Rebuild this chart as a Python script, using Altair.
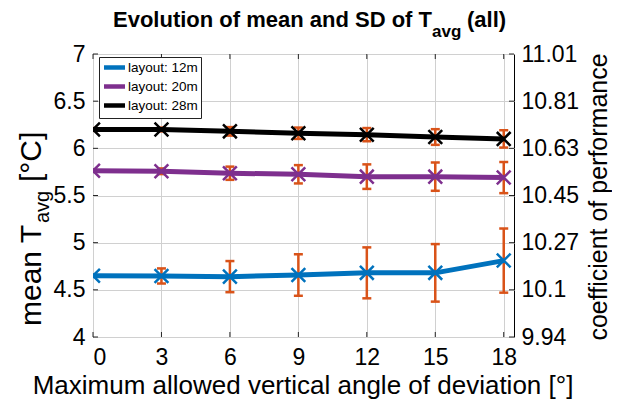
import altair as alt
import pandas as pd

# ---------------- data ----------------
angles = [0, 3, 6, 9, 12, 15, 18]
series_names = ["layout: 12m", "layout: 20m", "layout: 28m"]
series_colors = ["#0072BD", "#7E2F8E", "#000000"]

mean_12m = [4.65, 4.647, 4.64, 4.657, 4.68, 4.68, 4.81]
sd_12m = [0.01, 0.08, 0.165, 0.22, 0.27, 0.305, 0.34]
mean_20m = [5.763, 5.757, 5.736, 5.725, 5.70, 5.70, 5.69]
sd_20m = [0.01, 0.03, 0.07, 0.097, 0.13, 0.15, 0.165]
mean_28m = [6.20, 6.20, 6.18, 6.16, 6.145, 6.12, 6.10]
sd_28m = [0.015, 0.02, 0.045, 0.06, 0.07, 0.083, 0.092]

left_ticks = [4, 4.5, 5, 5.5, 6, 6.5, 7]
right_tick_labels = ["9.94", "10.1", "10.27", "10.45", "10.63", "10.81", "11.01"]

title_parts = ["Evolution of mean and SD of T", "avg", "(all)"]
ylabel_parts = ["mean T", "avg", "[°C]"]
xlabel = "Maximum allowed vertical angle of deviation [°]"
ylabel_right = "coefficient of performance"

rows = []
for name, means, sds in zip(series_names, [mean_12m, mean_20m, mean_28m],
                            [sd_12m, sd_20m, sd_28m]):
    for a, m, s in zip(angles, means, sds):
        rows.append(dict(series=name, angle=a, mean=m, lo=m - s, hi=m + s))
df = pd.DataFrame(rows)
ytick_df = pd.DataFrame({"v": left_ticks})
xtick_df = pd.DataFrame({"a": angles})

FONT = "Liberation Sans"
ORANGE = "#D95319"
GRID = "#d0d0d0"
TICK_COLOR = "#262626"
TICK_FS = 23
W, H, TL = 421, 283, 5

xscale = alt.Scale(domain=[0, 18.45], nice=False, zero=False)
yscale = alt.Scale(domain=[4, 7], nice=False, zero=False)
color_scale = alt.Scale(domain=series_names, range=series_colors)

x_axis = alt.Axis(values=angles, title=None, labelFontSize=TICK_FS, labelPadding=9,
                  ticks=False, domain=False, grid=True, gridColor=GRID,
                  labelFont=FONT, labelColor="black")
y_axis = alt.Axis(values=left_ticks, title=None, labelFontSize=TICK_FS, labelPadding=8,
                  format="~g", labelOverlap=False,
                  ticks=False, domain=False, grid=True, gridColor=GRID,
                  labelFont=FONT, labelColor="black")

lookup = "{" + ",".join(f"'{t}':'{l}'" for t, l in zip(left_ticks, right_tick_labels)) + "}"
y_axis_right = alt.Axis(values=left_ticks, orient="right", labelExpr=f"{lookup}[datum.value]",
                        title=None, labelOverlap=False,
                        labelFontSize=TICK_FS, labelPadding=7, ticks=False, domain=False,
                        grid=False, labelFont=FONT, labelColor="black")

x_enc = alt.X("angle:Q", scale=xscale, axis=x_axis)

base = alt.Chart(df)

# inward tick marks (MATLAB style)
yt = alt.Chart(ytick_df)
xt = alt.Chart(xtick_df)
ticks_left = yt.mark_rule(color=TICK_COLOR, strokeWidth=1).encode(
    x=alt.value(0), x2=alt.value(TL), y=alt.Y("v:Q", scale=yscale, axis=y_axis))
ticks_right = yt.mark_rule(color=TICK_COLOR, strokeWidth=1).encode(
    x=alt.value(W - TL), x2=alt.value(W), y=alt.Y("v:Q", scale=yscale, axis=y_axis))
ticks_bottom = xt.mark_rule(color=TICK_COLOR, strokeWidth=1).encode(
    x=alt.X("a:Q", scale=xscale, axis=x_axis), y=alt.value(H - TL), y2=alt.value(H))
ticks_top = xt.mark_rule(color=TICK_COLOR, strokeWidth=1).encode(
    x=alt.X("a:Q", scale=xscale, axis=x_axis), y=alt.value(0), y2=alt.value(TL))

err = base.mark_rule(color=ORANGE, strokeWidth=2.5, clip=True).encode(
    x=x_enc, y=alt.Y("lo:Q", scale=yscale, axis=y_axis), y2="hi:Q")
cap_lo = base.mark_tick(orient="horizontal", size=9, thickness=2.5, color=ORANGE,
                        clip=True, opacity=1).encode(
    x=x_enc, y=alt.Y("lo:Q", scale=yscale, axis=y_axis))
cap_hi = base.mark_tick(orient="horizontal", size=9, thickness=2.5, color=ORANGE,
                        clip=True, opacity=1).encode(
    x=x_enc, y=alt.Y("hi:Q", scale=yscale, axis=y_axis))

line = base.mark_line(strokeWidth=5, clip=True).encode(
    x=x_enc, y=alt.Y("mean:Q", scale=yscale, axis=y_axis),
    color=alt.Color("series:N", scale=color_scale, sort=series_names,
                    legend=alt.Legend(orient="none", legendX=6, legendY=3, title=None,
                                      symbolType="M-2,0L2,0", symbolStrokeWidth=4.5,
                                      symbolSize=110, symbolOffset=5,
                                      labelFontSize=13.5, labelFont=FONT,
                                      labelColor="black", labelOffset=6, padding=3,
                                      rowPadding=0, fillColor="white",
                                      strokeColor="#222222")),
    order="angle:Q")

X_PATH = "M-1,-1L1,1M-1,1L1,-1"
points = base.mark_point(shape=X_PATH, size=190, strokeWidth=2.5, filled=False,
                         opacity=1, clip=True).encode(
    x=x_enc, y=alt.Y("mean:Q", scale=yscale, axis=y_axis),
    stroke=alt.Stroke("series:N", scale=color_scale, legend=None))

right = base.mark_point(opacity=0).encode(
    x=x_enc, y=alt.Y("mean:Q", scale=yscale, axis=y_axis_right))

def txt(s, x, y, size, weight="normal", angle=0, align="left"):
    return alt.Chart(pd.DataFrame({"t": [s]})).mark_text(
        align=align, baseline="alphabetic", fontSize=size, fontWeight=weight,
        font=FONT, color="black", angle=angle).encode(
        text="t:N", x=alt.value(x), y=alt.value(y))

texts = [
    txt(title_parts[0], 20, -27, 22, "bold"),
    txt(title_parts[1], 339, -17, 17, "bold"),
    txt(title_parts[2], 374, -27, 22, "bold"),
    txt(xlabel, 210, 340, 26, align="center"),
    txt(ylabel_parts[0], -52, 272, 30, angle=270),
    txt(ylabel_parts[1], -44, 169, 20, angle=270),
    txt(ylabel_parts[2], -52, 128, 30, angle=270),
    txt(ylabel_right, 514, 143, 25, angle=270, align="center"),
]

main = alt.layer(ticks_left, ticks_right, ticks_bottom, ticks_top,
                 err, cap_lo, cap_hi, line, points)
chart = alt.layer(main, right, *texts).resolve_scale(y="independent").properties(
    width=W, height=H,
    padding={"left": 85, "top": 46, "right": 98, "bottom": 70},
    autosize=alt.AutoSizeParams(type="none"),
).configure_view(stroke="black", strokeWidth=1)

chart.save("out.html", embed_options={"renderer": "svg", "actions": False})
